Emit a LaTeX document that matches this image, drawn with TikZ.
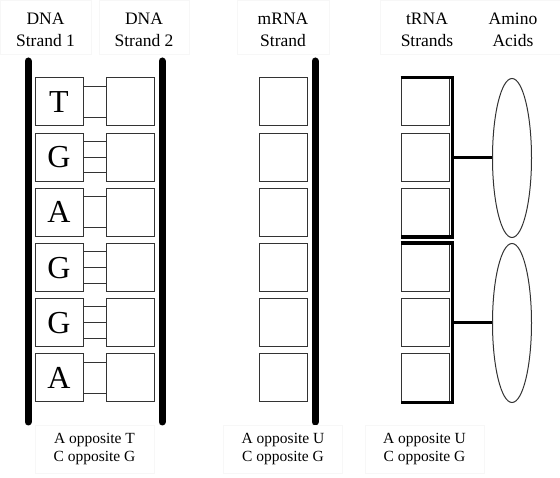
\documentclass[tikz,border=0pt]{standalone}
\usepackage{fontspec}
\setmainfont{Liberation Serif}
\usepackage{tikz}
\usetikzlibrary{calc}
\usetikzlibrary{positioning}
\usetikzlibrary{shapes.geometric}

\tikzset{
	base/.style={draw=black!80,line width=1pt,fill=white,minimum size=48pt,inner sep=0pt,font=\rmfamily\fontsize{32}{32}\selectfont},
	strand/.style={line width=7pt,line cap=round},
	bond/.style={draw=black!80,line width=0.9pt},
	label/.style={draw=black!3,line width=0.6pt,minimum height=54pt,inner sep=0pt},
	rule/.style={draw=black!3,line width=0.6pt,minimum width=119pt,minimum height=48pt,inner sep=0pt,align=center,font=\rmfamily\fontsize{15.5}{17.5}\selectfont},
	acid/.style={ellipse,draw=black!80,line width=1pt,minimum width=39pt,minimum height=159pt,inner sep=0pt},
	head/.style={align=center,font=\rmfamily\fontsize{17.5}{22}\selectfont}
}

\begin{document}
\begin{tikzpicture}[x=1pt,y=-1pt]
		\useasboundingbox (0,0) rectangle (560,478);
		
		% headers
		\node[label,minimum width=91pt] (h1) at (45.5,27) {};
		\node[label,minimum width=90pt] (h2) at (144,27) {};
		\node[label,minimum width=92pt] (h3) at (283,27) {};
		\node[label,minimum width=180pt] (h4) at (470,27) {};
		\node[head] at (45.5,29.5) {DNA\\Strand 1};
		\node[head] at (144,29.5) {DNA\\Strand 2};
		\node[head] at (283,29.5) {mRNA\\Strand};
		\node[head] at (427,29.5) {tRNA\\Strands};
		\node[head] at (513,29.5) {Amino\\Acids};
		
		% backbones
		\coordinate (S1) at (28,61);
		\coordinate (S2) at (162,61);
		\coordinate (S3) at (315,61);
		\draw[strand] (S1) -- ++(0,361);
		\draw[strand] (S2) -- ++(0,361);
		\draw[strand] (S3) -- ++(0,361);
		
		% bases
		\foreach \b [count=\i] in {T,G,A,G,G,A}{
			\pgfmathsetmacro{\yy}{102+55.2*(\i-1)}
			\node[base] (d\i) at (59,\yy) {\b};
			\node[base] (e\i) at (130,\yy) {};
			\node[base] (m\i) at (283,\yy) {};
			\node[base] (t\i) at (425,\yy) {};
		}
		
		% hydrogen bonds
		\foreach \i in {1,3,6}{
			\draw[bond] ($(d\i.east)+(0,-15.5)$) -- ($(e\i.west)+(0,-15.5)$);
			\draw[bond] ($(d\i.east)+(0,15.5)$) -- ($(e\i.west)+(0,15.5)$);
		}
		\foreach \i in {2,4,5}{
			\draw[bond] ($(d\i.east)+(0,-16)$) -- ($(e\i.west)+(0,-16)$);
			\draw[bond] (d\i.east) -- (e\i.west);
			\draw[bond] ($(d\i.east)+(0,15.5)$) -- ($(e\i.west)+(0,15.5)$);
		}
		
		% tRNA and amino acids
		\node[acid] (a1) at (512,158) {};
		\node[acid] (a2) at (512,323) {};
		\draw[line width=3.5pt] (t1.north west) -- ++(52,0) coordinate (k1) |- (t3.south west);
		\draw[line width=3.5pt] (t4.north west) -- ++(52,0) coordinate (k2) |- (t6.south west);
		\draw[line width=3pt] (k1 |- a1.west) -- (a1.west);
		\draw[line width=3pt] (k2 |- a2.west) -- (a2.west);
		
		% pairing rules
		\node[rule] (r1) at (94.5,449) {A opposite T\\C opposite G};
		\node[rule] (r2) at (283,449) {A opposite U\\C opposite G};
		\node[rule] (r3) at (424.5,449) {A opposite U\\C opposite G};
\end{tikzpicture}
\end{document}
